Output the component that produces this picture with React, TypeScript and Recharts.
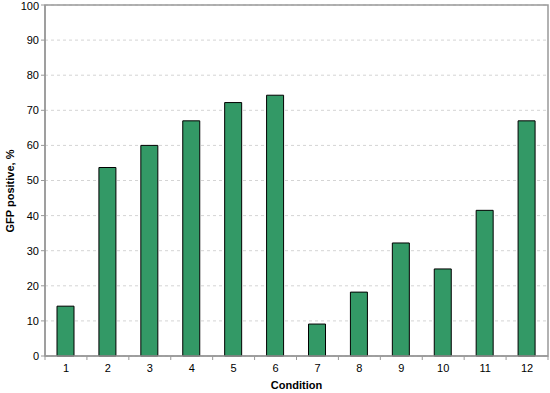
import { BarChart, Bar, XAxis, YAxis, CartesianGrid, ReferenceArea } from "recharts";

const conditions = ["1", "2", "3", "4", "5", "6", "7", "8", "9", "10", "11", "12"];
const gfpPositive = [14.2, 53.7, 60, 67, 72.2, 74.3, 9.1, 18.2, 32.2, 24.8, 41.5, 67];
const yTicks = [0, 10, 20, 30, 40, 50, 60, 70, 80, 90, 100];

const data = conditions.map((c, i) => ({ condition: c, value: gfpPositive[i] }));

const STEP = 503 / 12;

function ConditionTick(props: any) {
    const { x, y, payload, index } = props;
    return (
        <g>
            <line x1={x - STEP / 2} y1={y} x2={x - STEP / 2} y2={y + 4} stroke="#999" />
            {index === conditions.length - 1 && (
                <line x1={x + STEP / 2} y1={y} x2={x + STEP / 2} y2={y + 4} stroke="#999" />
            )}
            <text x={x} y={y + 16} textAnchor="middle" fontSize={11} fill="#000">
                {payload.value}
            </text>
        </g>
    );
}

export default function App() {
    return (
        <div style={{ position: "absolute", left: 0, top: 0, fontFamily: "'Liberation Sans', Arial, sans-serif" }}>
            <BarChart
                width={550}
                height={393}
                data={data}
                margin={{ top: 5, right: 2, bottom: 0, left: 0 }}
                barCategoryGap={0}
            >
                <CartesianGrid vertical={false} stroke="#d4d4d4" strokeDasharray="3 3" />
                <XAxis
                    dataKey="condition"
                    height={37}
                    tickLine={false}
                    tickSize={0}
                    tickMargin={0}
                    tick={<ConditionTick />}
                    axisLine={{ stroke: "#999", strokeWidth: 1.5 }}
                    interval={0}
                    label={{ value: "Condition", position: "insideBottom", offset: 4, fontSize: 11, fontWeight: "bold", fill: "#000" }}
                />
                <YAxis
                    width={45}
                    domain={[0, 100]}
                    ticks={yTicks}
                    tickSize={4}
                    tickLine={{ stroke: "#999" }}
                    axisLine={{ stroke: "#999", strokeWidth: 1.5 }}
                    tick={{ fontSize: 11, fill: "#000" }}
                    label={{ value: "GFP positive, %", angle: -90, position: "insideLeft", offset: 10, dy: 52, fontSize: 11, fontWeight: "bold", fill: "#000" }}
                />
                <ReferenceArea y1={0} y2={100} fill="none" stroke="#999" strokeWidth={1.5} fillOpacity={0} />
                <Bar dataKey="value" fill="#339966" stroke="#000" strokeWidth={1} barSize={17} isAnimationActive={false} />
            </BarChart>
        </div>
    );
}
